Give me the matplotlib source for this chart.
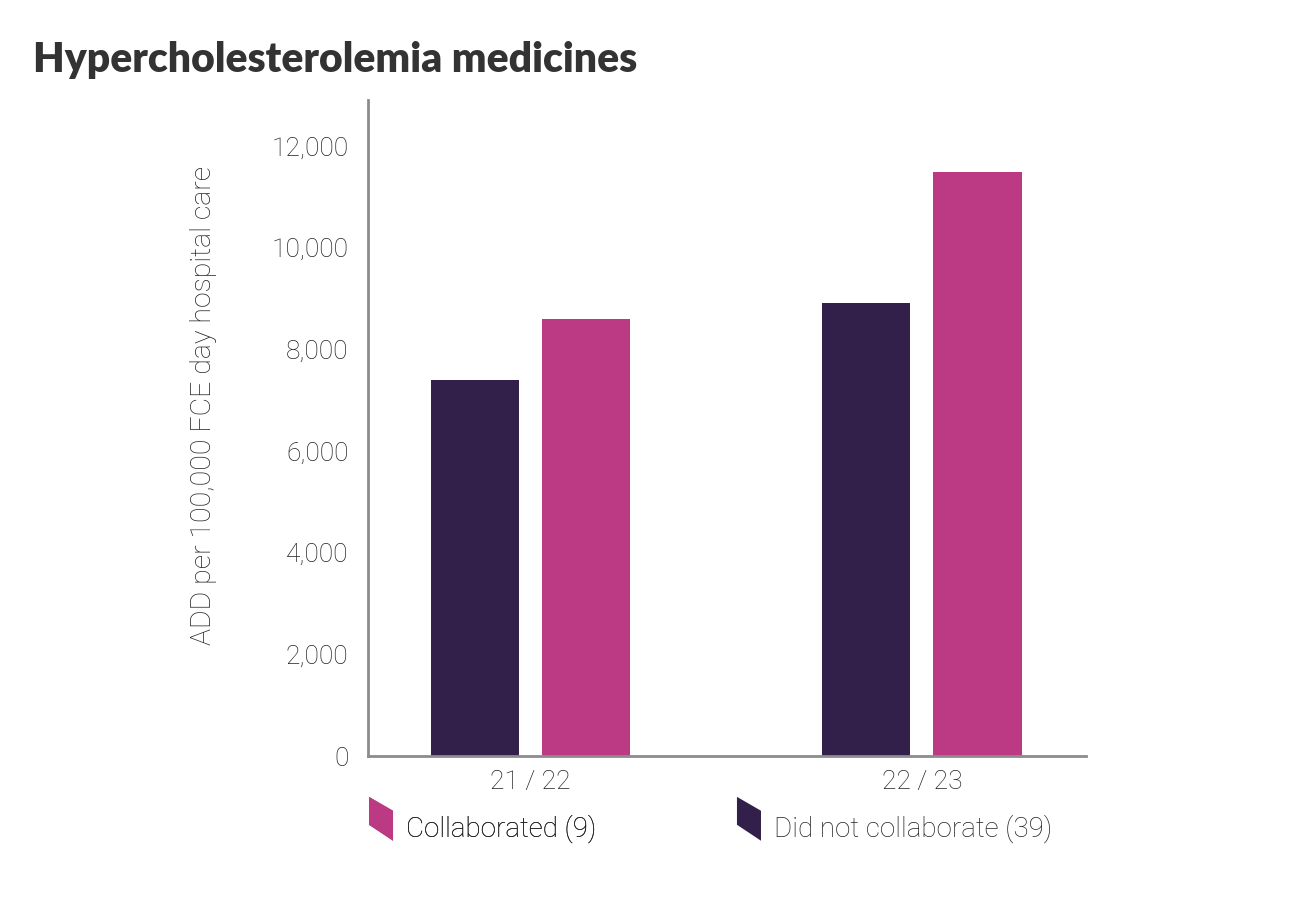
import numpy as np
import matplotlib
matplotlib.use("Agg")
import matplotlib.pyplot as plt
from matplotlib.patches import Patch, Polygon
from matplotlib.legend_handler import HandlerPatch
from matplotlib.ticker import FuncFormatter

# data
years = ["21 / 22", "22 / 23"]
did_not_collaborate = [7400, 8900]
collaborated = [8600, 11480]

DARK = "#32204b"
PINK = "#bc3a84"
TEXT = "#222222"
SPINE = "#8c8c8c"

plt.rcParams["font.family"] = ["Roboto", "DejaVu Sans"]
plt.rcParams["font.weight"] = "light"
FS = 19


def slanted_patch(legend, orig_handle, xdescent, ydescent, width, height, fontsize):
    # parallelogram marker: vertical sides, top/bottom sloping down to the right
    x0 = -xdescent
    w = 17.3
    cy = -ydescent + height / 2 + 6.0
    pts = [(x0, cy + 15.8), (x0 + w, cy + 5.8), (x0 + w, cy - 15.8), (x0, cy - 4.3)]
    return Polygon(pts, closed=True, facecolor=orig_handle.get_facecolor(), edgecolor="none")


fig = plt.figure(figsize=(12.92, 9.10), dpi=100)
ax = fig.add_axes([0.2848, 0.1692, 0.5557, 0.7209])

x = np.arange(len(years))
width = 0.225
offset = 0.142
ax.bar(x - offset, did_not_collaborate, width, color=DARK)
ax.bar(x + offset, collaborated, width, color=PINK)

ax.set_xlim(-0.415, 1.419)
ax.set_ylim(0, 12900)
ax.set_yticks(np.arange(0, 12001, 2000))
ax.yaxis.set_major_formatter(FuncFormatter(lambda v, p: f"{int(v):,}"))
ax.set_xticks(x)
ax.set_xticklabels(years)
ax.tick_params(axis="both", length=0, labelsize=FS, colors=TEXT, pad=14)
ax.tick_params(axis="x", pad=10)

for side in ["top", "right"]:
    ax.spines[side].set_visible(False)
for side in ["left", "bottom"]:
    ax.spines[side].set_color(SPINE)
    ax.spines[side].set_linewidth(2)

ax.set_ylabel("ADD per 100,000 FCE day hospital care", fontsize=20.5,
              color=TEXT, fontweight="light")
ax.yaxis.set_label_coords(-0.21, 0.535)

fig.text(0.0255, 0.934, "Hypercholesterolemia medicines", fontsize=29.4,
         fontfamily=["Lato", "DejaVu Sans"], fontweight="heavy",
         color="#333333", va="center", ha="left")

# legend entries sit below the tick labels, one in each column
hmap = {Patch: HandlerPatch(patch_func=slanted_patch)}
common = dict(loc="center left", frameon=False, handler_map=hmap,
              handlelength=17.3 / 20, handletextpad=0.47, borderpad=0,
              borderaxespad=0, labelcolor=TEXT,
              prop={"size": 20, "family": ["Roboto", "DejaVu Sans"], "weight": "light"})
leg1 = fig.legend([Patch(facecolor=PINK)], ["Collaborated (9)"],
                  bbox_to_anchor=(0.2856, 0.089), **common)
leg2 = fig.legend([Patch(facecolor=DARK)], ["Did not collaborate (39)"],
                  bbox_to_anchor=(0.5704, 0.089), **common)
fig.add_artist(leg1)

fig.savefig("out.png", dpi=100)
